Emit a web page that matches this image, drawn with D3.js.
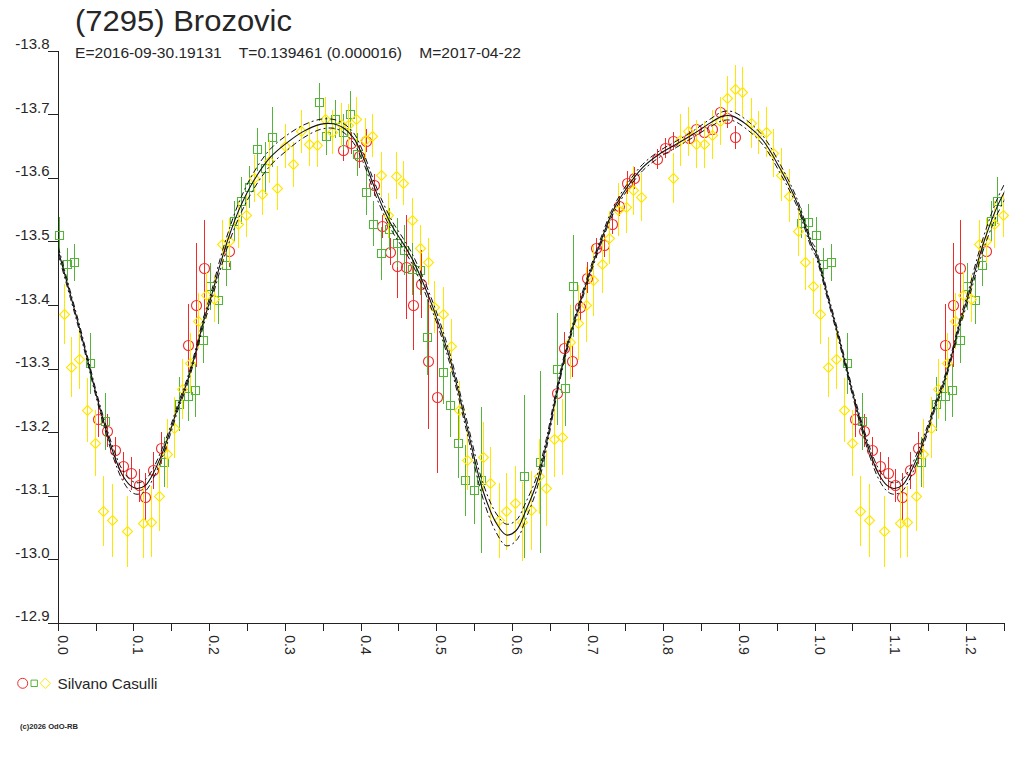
<!DOCTYPE html>
<html><head><meta charset="utf-8">
<script src="https://cdn.jsdelivr.net/npm/d3@7"></script>
<style>
body{margin:0;background:#fff;}
svg{display:block;}
text{font-family:"Liberation Sans",Arial,sans-serif;fill:#262626;}
</style>
</head><body>
<svg id="c" width="1024" height="768"></svg>
<script>
// ---------- texts ----------
const titleText = "(7295) Brozovic";
const subtitleText = "E=2016-09-30.19131    T=0.139461 (0.000016)    M=2017-04-22";
const observerName = "Silvano Casulli";
const copyrightText = "(c)2026 OdO-RB";

// ---------- ticks ----------
const xTicks = [0.0,0.1,0.2,0.3,0.4,0.5,0.6,0.7,0.8,0.9,1.0,1.1,1.2];
const xMinorTicks = [0.05,0.15,0.25,0.35,0.45,0.55,0.65,0.75,0.85,0.95,1.05,1.15,1.25];
const yTicks = [-13.8,-13.7,-13.6,-13.5,-13.4,-13.3,-13.2,-13.1,-13.0,-12.9];

// ---------- session 1 (red circles) ----------
const redPhase = [0.053,0.065,0.075,0.086,0.096,0.106,0.115,0.125,0.136,0.171,0.182,0.192,0.226,0.376,0.387,0.397,0.407,0.417,0.428,0.438,0.448,0.459,0.469,0.479,0.489,0.500,0.659,0.668,0.679,0.689,0.699,0.710,0.721,0.731,0.741,0.751,0.761,0.791,0.802,0.812,0.833,0.843,0.853,0.864,0.874,0.884,0.894];
const redMag = [-13.222,-13.203,-13.172,-13.147,-13.136,-13.117,-13.099,-13.141,-13.176,-13.338,-13.401,-13.459,-13.486,-13.645,-13.656,-13.635,-13.659,-13.590,-13.525,-13.485,-13.462,-13.461,-13.401,-13.434,-13.312,-13.256,-13.263,-13.333,-13.312,-13.397,-13.444,-13.491,-13.495,-13.528,-13.557,-13.593,-13.601,-13.631,-13.648,-13.659,-13.664,-13.677,-13.673,-13.677,-13.704,-13.695,-13.665];
const redErr = [0.029,0.026,0.021,0.022,0.026,0.026,0.037,0.029,0.025,0.065,0.098,0.075,0.026,0.017,0.017,0.018,0.018,0.017,0.018,0.021,0.050,0.082,0.071,0.054,0.107,0.120,0.024,0.025,0.025,0.022,0.024,0.016,0.018,0.016,0.016,0.018,0.017,0.016,0.016,0.014,0.010,0.013,0.012,0.013,0.018,0.016,0.018];

// ---------- session 2 (green squares) ----------
const greenPhase = [0.001,0.011,0.021,0.042,0.062,0.140,0.160,0.171,0.181,0.191,0.201,0.211,0.221,0.232,0.241,0.252,0.263,0.273,0.283,0.345,0.354,0.365,0.376,0.385,0.395,0.406,0.416,0.426,0.437,0.447,0.457,0.467,0.478,0.487,0.508,0.518,0.528,0.538,0.549,0.558,0.616,0.636,0.659,0.670,0.680,0.982,0.991];
const greenMag = [-13.511,-13.465,-13.468,-13.309,-13.218,-13.154,-13.245,-13.257,-13.267,-13.346,-13.430,-13.408,-13.464,-13.533,-13.565,-13.587,-13.646,-13.617,-13.665,-13.720,-13.667,-13.694,-13.673,-13.702,-13.638,-13.579,-13.529,-13.482,-13.521,-13.499,-13.487,-13.458,-13.456,-13.351,-13.295,-13.244,-13.183,-13.125,-13.109,-13.125,-13.131,-13.154,-13.300,-13.270,-13.431,-13.530,-13.532];
const greenErr = [0.029,0.026,0.029,0.048,0.045,0.039,0.042,0.039,0.042,0.037,0.037,0.037,0.033,0.031,0.037,0.033,0.034,0.041,0.047,0.030,0.030,0.030,0.029,0.035,0.034,0.037,0.035,0.042,0.033,0.039,0.039,0.042,0.039,0.060,0.050,0.051,0.054,0.056,0.052,0.115,0.128,0.143,0.088,0.060,0.080,0.024,0.027];

// ---------- session 3 (yellow diamonds) ----------
const yellowPhase = [0.007,0.017,0.027,0.038,0.049,0.059,0.071,0.091,0.112,0.122,0.133,0.143,0.153,0.163,0.174,0.185,0.195,0.206,0.216,0.226,0.237,0.248,0.258,0.269,0.279,0.289,0.300,0.310,0.321,0.331,0.342,0.352,0.362,0.373,0.383,0.393,0.405,0.415,0.426,0.436,0.446,0.456,0.467,0.478,0.488,0.497,0.508,0.519,0.529,0.540,0.561,0.571,0.582,0.592,0.603,0.613,0.624,0.635,0.644,0.655,0.665,0.676,0.687,0.697,0.707,0.718,0.728,0.739,0.750,0.760,0.770,0.812,0.822,0.832,0.843,0.853,0.864,0.874,0.884,0.894,0.904,0.915,0.924,0.935,0.945,0.955,0.966,0.977,0.987,0.997];
const yellowMag = [-13.387,-13.303,-13.316,-13.236,-13.184,-13.076,-13.062,-13.045,-13.058,-13.060,-13.100,-13.167,-13.208,-13.269,-13.310,-13.375,-13.416,-13.411,-13.497,-13.502,-13.528,-13.542,-13.600,-13.576,-13.627,-13.585,-13.651,-13.622,-13.674,-13.654,-13.652,-13.694,-13.673,-13.685,-13.684,-13.693,-13.661,-13.667,-13.606,-13.542,-13.604,-13.593,-13.534,-13.491,-13.469,-13.397,-13.387,-13.337,-13.235,-13.157,-13.162,-13.120,-13.062,-13.076,-13.089,-13.060,-13.078,-13.131,-13.113,-13.190,-13.193,-13.343,-13.373,-13.401,-13.440,-13.466,-13.507,-13.551,-13.555,-13.581,-13.571,-13.601,-13.661,-13.674,-13.654,-13.654,-13.669,-13.690,-13.726,-13.741,-13.736,-13.687,-13.672,-13.673,-13.640,-13.606,-13.573,-13.517,-13.468,-13.431];
const yellowErr = [0.047,0.047,0.047,0.050,0.052,0.055,0.057,0.056,0.056,0.056,0.054,0.054,0.048,0.047,0.047,0.044,0.037,0.037,0.037,0.035,0.037,0.034,0.037,0.033,0.034,0.035,0.035,0.035,0.034,0.034,0.034,0.034,0.034,0.034,0.033,0.035,0.034,0.034,0.035,0.035,0.037,0.035,0.035,0.035,0.037,0.041,0.042,0.042,0.047,0.048,0.055,0.058,0.059,0.060,0.059,0.062,0.062,0.059,0.060,0.060,0.060,0.058,0.059,0.059,0.056,0.047,0.042,0.041,0.041,0.038,0.038,0.039,0.041,0.038,0.038,0.037,0.039,0.038,0.035,0.037,0.039,0.039,0.034,0.039,0.038,0.042,0.042,0.039,0.044,0.044];

// ---------- fitted light curve ----------
const fitPhase = [0.000,0.018,0.029,0.040,0.051,0.062,0.073,0.084,0.095,0.104,0.115,0.125,0.137,0.148,0.158,0.170,0.181,0.191,0.203,0.214,0.225,0.240,0.258,0.280,0.302,0.324,0.346,0.363,0.376,0.390,0.403,0.416,0.429,0.442,0.456,0.469,0.495,0.517,0.539,0.561,0.579,0.592,0.605,0.618,0.632,0.645,0.658,0.671,0.685,0.698,0.715,0.733,0.751,0.772,0.794,0.817,0.838,0.861,0.878,0.891,0.909,0.931,0.953,0.975,0.997];
const fitMag = [-13.486,-13.408,-13.360,-13.308,-13.256,-13.209,-13.167,-13.135,-13.117,-13.112,-13.117,-13.135,-13.167,-13.203,-13.240,-13.279,-13.324,-13.371,-13.418,-13.465,-13.507,-13.554,-13.596,-13.633,-13.656,-13.674,-13.685,-13.686,-13.680,-13.664,-13.633,-13.591,-13.554,-13.523,-13.497,-13.470,-13.397,-13.318,-13.214,-13.109,-13.057,-13.039,-13.046,-13.078,-13.120,-13.183,-13.261,-13.329,-13.387,-13.436,-13.495,-13.549,-13.585,-13.617,-13.638,-13.654,-13.669,-13.687,-13.698,-13.698,-13.685,-13.660,-13.617,-13.565,-13.491];
const fitSpread = [0.006,0.005,0.005,0.005,0.005,0.006,0.007,0.008,0.009,0.009,0.009,0.008,0.007,0.006,0.005,0.005,0.005,0.006,0.007,0.009,0.010,0.012,0.013,0.013,0.012,0.010,0.008,0.007,0.007,0.008,0.008,0.008,0.008,0.008,0.008,0.008,0.008,0.008,0.009,0.012,0.015,0.017,0.016,0.013,0.010,0.008,0.006,0.005,0.005,0.005,0.005,0.005,0.005,0.005,0.005,0.005,0.005,0.006,0.007,0.007,0.007,0.007,0.007,0.006,0.006];

// ---------- drawing ----------
const svg = d3.select("#c");
const x = d3.scaleLinear().domain([0, 1.25]).range([58.3, 1004.3]);
const y = d3.scaleLinear().domain([-13.8, -12.9]).range([51.3, 623.3]);
const PMAX = 1.25;

function buildPoints(ph, mg, er) {
  const pts = ph.map((p, i) => ({p: p, m: mg[i], e: er[i]}));
  const rep = pts.filter(d => d.p + 1 <= PMAX).map(d => ({p: d.p + 1, m: d.m, e: d.e}));
  return pts.concat(rep);
}

// titles
svg.append("text").attr("x", 75).attr("y", 31).attr("font-size", 30)
  .attr("textLength", 217).attr("lengthAdjust", "spacingAndGlyphs").text(titleText);
svg.append("text").attr("x", 75).attr("y", 58).attr("font-size", 15.5)
  .style("white-space", "pre").attr("textLength", 446).attr("lengthAdjust", "spacingAndGlyphs")
  .text(subtitleText);

// axes
const axisG = svg.append("g").attr("stroke", "#222").attr("shape-rendering", "crispEdges");
axisG.append("line").attr("x1", x(0)).attr("x2", x(0)).attr("y1", y(-13.8)).attr("y2", y(-12.9));
axisG.append("line").attr("x1", 48.3).attr("x2", x(1.25)).attr("y1", y(-12.9)).attr("y2", y(-12.9));
axisG.selectAll(".yt").data(yTicks).enter().append("line")
  .attr("x1", 48.3).attr("x2", x(0)).attr("y1", d => y(d)).attr("y2", d => y(d));
axisG.selectAll(".xt").data(xTicks.concat(xMinorTicks)).enter().append("line")
  .attr("x1", d => x(d)).attr("x2", d => x(d)).attr("y1", y(-12.9)).attr("y2", y(-12.9) + 8);

svg.selectAll(".ylab").data(yTicks).enter().append("text")
  .attr("x", 49.5).attr("y", d => y(d) - 2).attr("text-anchor", "end").attr("font-size", 15)
  .text(d => d.toFixed(1));
svg.selectAll(".xlab").data(xTicks).enter().append("text")
  .attr("transform", d => `translate(${x(d) - 0.5},${y(-12.9) + 12}) rotate(90)`)
  .attr("font-size", 14).attr("text-anchor", "start")
  .text(d => d.toFixed(1));

// clip for curves
svg.append("clipPath").attr("id", "plotclip").append("rect")
  .attr("x", x(0)).attr("y", 0).attr("width", x(1.25) - x(0)).attr("height", y(-12.9));

// series
const series = [
  {name: "red", color: "#ee2a2a", shape: "circle", pts: buildPoints(redPhase, redMag, redErr)},
  {name: "green", color: "#55b33c", shape: "square", pts: buildPoints(greenPhase, greenMag, greenErr)},
  {name: "yellow", color: "#ffe600", shape: "diamond", pts: buildPoints(yellowPhase, yellowMag, yellowErr)}
];

function markerPath(shape, cx, cy, s) {
  if (shape === "square") return `M${cx - s},${cy - s}H${cx + s}V${cy + s}H${cx - s}Z`;
  if (shape === "diamond") return `M${cx},${cy - s}L${cx + s},${cy}L${cx},${cy + s}L${cx - s},${cy}Z`;
  return `M${cx - s},${cy}A${s},${s} 0 1,0 ${cx + s},${cy}A${s},${s} 0 1,0 ${cx - s},${cy}Z`;
}
const markerSize = {circle: 5, square: 4, diamond: 5};

series.forEach(s => {
  const g = svg.append("g").attr("class", s.name);
  g.selectAll("line").data(s.pts).enter().append("line")
    .attr("x1", d => Math.round(x(d.p)) + 0.5).attr("x2", d => Math.round(x(d.p)) + 0.5)
    .attr("y1", d => y(d.m - d.e)).attr("y2", d => y(d.m + d.e))
    .attr("stroke", s.color).attr("stroke-width", 1.2).attr("shape-rendering", "crispEdges");
  g.selectAll("path").data(s.pts).enter().append("path")
    .attr("d", d => markerPath(s.shape, Math.round(x(d.p)) + 0.5, Math.round(y(d.m)) + 0.5, markerSize[s.shape]))
    .attr("fill", "none").attr("stroke", s.color).attr("stroke-width", 1.1);
});

// fitted curve + envelope
const fitPts = fitPhase.map((p, i) => ({p: p, m: fitMag[i], s: fitSpread[i]}));
const fitAll = fitPts.concat(fitPts.filter(d => d.p <= 0.26).map(d => ({p: d.p + 1, m: d.m, s: d.s})));
const lineGen = acc => d3.line().x(d => x(d.p)).y(d => y(acc(d))).curve(d3.curveCatmullRom.alpha(0.5));
const curveG = svg.append("g").attr("clip-path", "url(#plotclip)").attr("fill", "none");
curveG.append("path").datum(fitAll).attr("d", lineGen(d => d.m - d.s))
  .attr("stroke", "#111").attr("stroke-width", 1).attr("stroke-dasharray", "6,3,2,3");
curveG.append("path").datum(fitAll).attr("d", lineGen(d => d.m + d.s))
  .attr("stroke", "#111").attr("stroke-width", 1).attr("stroke-dasharray", "6,3,2,3");
curveG.append("path").datum(fitAll).attr("d", lineGen(d => d.m))
  .attr("stroke", "#111").attr("stroke-width", 1.1);

// legend
const lg = svg.append("g");
lg.append("path").attr("d", markerPath("circle", 22.7, 683.3, 5)).attr("fill", "none").attr("stroke", series[0].color);
lg.append("path").attr("d", markerPath("square", 34.2, 683.3, 3.2)).attr("fill", "none").attr("stroke", series[1].color);
lg.append("path").attr("d", markerPath("diamond", 45.3, 683.3, 5.2)).attr("fill", "none").attr("stroke", series[2].color);
lg.append("text").attr("x", 57.5).attr("y", 688.5).attr("font-size", 15)
  .attr("textLength", 100).attr("lengthAdjust", "spacingAndGlyphs").text(observerName);

svg.append("text").attr("x", 20).attr("y", 728.5).attr("font-size", 8).attr("font-weight", "bold")
  .attr("textLength", 58).attr("lengthAdjust", "spacingAndGlyphs").text(copyrightText);
</script>
</body></html>
